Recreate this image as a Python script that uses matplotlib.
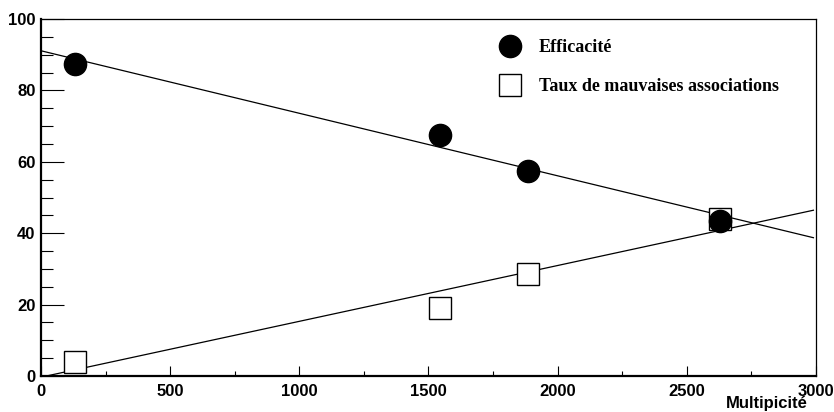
import numpy as np
import matplotlib
matplotlib.use("Agg")
import matplotlib.pyplot as plt
from matplotlib.ticker import MultipleLocator

# values
multiplicite = [130, 1545, 1885, 2630]
efficacite = [87.5, 67.5, 57.5, 43.5]
mauvaises = [4.0, 19.0, 28.5, 44.0]
legend_labels = ["Efficacité", "Taux de mauvaises associations"]
x_label = "Multipicité"

fig = plt.figure(figsize=(8.34, 4.12), dpi=100)
ax = fig.add_axes([41 / 834, 36 / 412, 775 / 834, 357 / 412])

# linear fits drawn across the range
xf = np.array([0.0, 2990.0])
for y in (efficacite, mauvaises):
    k, b = np.polyfit(multiplicite, y, 1)
    ax.plot(xf, k * xf + b, color="black", lw=0.9, zorder=2)

ax.plot(multiplicite, mauvaises, ls="none", marker="s", ms=16,
        mfc="white", mec="black", mew=1.0, zorder=3)
ax.plot(multiplicite, efficacite, ls="none", marker="o", ms=16,
        color="black", zorder=4)

ax.set_xlim(0, 3000)
ax.set_ylim(0, 100)
ax.xaxis.set_major_locator(MultipleLocator(500))
ax.xaxis.set_minor_locator(MultipleLocator(250))
ax.yaxis.set_major_locator(MultipleLocator(20))
ax.yaxis.set_minor_locator(MultipleLocator(5))

tick_font = {"family": "Liberation Sans", "weight": "bold", "size": 12}
ax.tick_params(axis="x", which="major", direction="in", length=7.2, width=0.8, pad=5.5)
ax.tick_params(axis="x", which="minor", direction="in", length=3.6, width=0.8)
ax.tick_params(axis="y", which="major", direction="in", length=16.5, width=0.8, pad=4)
ax.tick_params(axis="y", which="minor", direction="in", length=8.6, width=0.8)
for lab in ax.get_xticklabels() + ax.get_yticklabels():
    lab.set_fontfamily(tick_font["family"])
    lab.set_fontweight(tick_font["weight"])
    lab.set_fontsize(tick_font["size"])

ax.spines["left"].set_linewidth(1.6)
ax.spines["bottom"].set_linewidth(1.6)
ax.spines["top"].set_linewidth(0.9)
ax.spines["right"].set_linewidth(0.9)

# legend without frame, as in the original
leg_h = [
    plt.Line2D([], [], ls="none", marker="o", ms=16, color="black"),
    plt.Line2D([], [], ls="none", marker="s", ms=16, mfc="white", mec="black", mew=1.0),
]
ax.legend(leg_h, legend_labels, loc="upper left",
          bbox_to_anchor=(0.57, 0.99), frameon=False,
          prop={"family": "Liberation Serif", "weight": "bold", "size": 13},
          handletextpad=1.0, labelspacing=1.25, handlelength=1.2)

fig.text(808 / 834, 1 / 412, x_label, ha="right", va="bottom",
         family="Liberation Sans", weight="bold", fontsize=12)

fig.savefig("out.png", dpi=100)
